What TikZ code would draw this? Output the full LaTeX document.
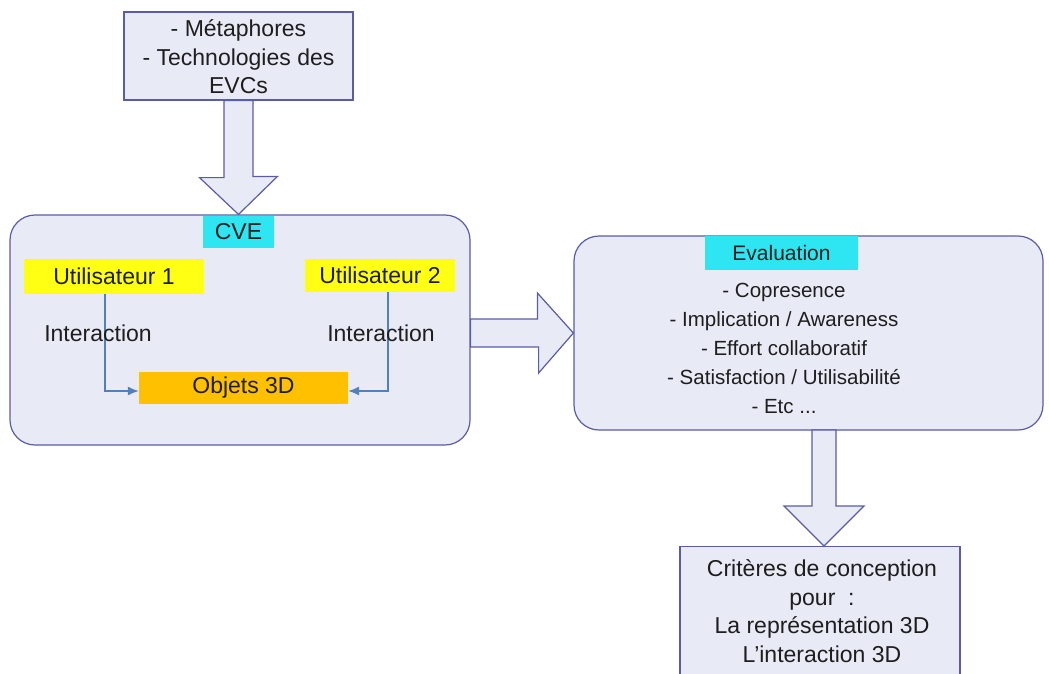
\documentclass[tikz,border=0pt]{standalone}
\usepackage{fontspec}
\setmainfont{Liberation Sans}
\usetikzlibrary{calc,arrows.meta}
\definecolor{boxfill}{HTML}{E8EAF6}
\definecolor{boxline}{HTML}{5A5CA8}
\definecolor{cyanlab}{HTML}{2EE6F2}
\definecolor{yellab}{HTML}{FFFF14}
\definecolor{orlab}{HTML}{FFC000}
\definecolor{conncol}{HTML}{4F81BD}
\definecolor{txt}{HTML}{1E1E1E}
\tikzset{
  bigtext/.style={font=\fontsize{23}{28.5}\selectfont, text=txt, align=center},
  evaltext/.style={font=\fontsize{20.5}{29}\selectfont, text=txt, align=center},
  plainbox/.style={draw=boxline, fill=boxfill, line width=1.2pt},
  roundbox/.style={draw=boxline, fill=boxfill, line width=1.2pt, rounded corners=25pt},
  label/.style={inner sep=0pt, font=\fontsize{23}{28}\selectfont, text=txt},
  blockarrow/.style={draw=boxline, fill=boxfill, line width=1.2pt, line join=miter},
  conn/.style={draw=conncol, line width=1.4pt, -{Latex[length=11pt,width=9pt]}}
}
\begin{document}
\begin{tikzpicture}[x=1pt,y=-1pt]
\useasboundingbox (0,0) rectangle (1049,673);
\clip (0,0) rectangle (1049,673);

% top box
\node[plainbox, minimum width=229pt, minimum height=88pt, inner sep=0pt] (top) at (238.5,56) {};
\node[bigtext] (toptext) at (238.5,57) {- Métaphores\\- Technologies des\\EVCs};

% CVE box
\node[roundbox, minimum width=460pt, minimum height=230pt, inner sep=0pt] (cve) at (240,330) {};
\node[label, fill=cyanlab, minimum width=71pt, minimum height=32pt] (cvelab) at (238.5,232) {CVE};
\node[label, fill=yellab, minimum width=180pt, minimum height=35pt] (u1) at (114,276.5) {Utilisateur 1};
\node[label, fill=yellab, minimum width=150pt, minimum height=33pt] (u2) at (380,275.5) {Utilisateur 2};
\node[label, fill=orlab, minimum width=209pt, minimum height=32pt] (obj) at (243.5,388) {Objets 3D};
\draw[conn] ([xshift=-9pt]u1.south) |- ([yshift=-3pt]obj.west);
\draw[conn] ([xshift=8pt]u2.south) |- ([yshift=-3pt]obj.east);
\node[label] (int1) at (98,333) {Interaction};
\node[label] (int2) at (381,333) {Interaction};

% top arrow
\draw[blockarrow] ([xshift=-14.5pt]top.south) -- ++(0,77) -- ++(-24.5,0)
  -- (cve.north -| top.south) -- ++(39,-38) -- ++(-24.5,0) -- ([xshift=14.5pt]top.south) -- cycle;

% Evaluation box
\node[roundbox, minimum width=469pt, minimum height=194pt, inner sep=0pt] (eval) at (808.5,333) {};
\node[label, fill=cyanlab, minimum width=153pt, minimum height=34pt, font=\fontsize{21}{26}\selectfont] (evallab) at (781.5,253) {Evaluation};
\node[evaltext] (evalitems) at (784,348) {- Copresence\\- Implication / Awareness\\- Effort collaboratif\\- Satisfaction / Utilisabilité\\- Etc ...};

% middle arrow
\coordinate (mstart) at (cve.east |- eval.west);
\draw[blockarrow] ([yshift=-14pt]mstart) -- ++(68,0) -- ++(0,26)
  -- (eval.west) -- ++(-36,-40) -- ++(0,26) -- ([yshift=14pt]mstart) -- cycle;

% bottom box
\node[plainbox, minimum width=280pt, minimum height=200pt, inner sep=0pt, anchor=north] (crit) at (820,546) {};
\node[bigtext] (crittext) at (822,611) {Critères de conception\\pour\ \ :\\La représentation 3D\\L’interaction 3D};

% bottom arrow
\coordinate (bstart) at (824,430);
\draw[blockarrow] ([xshift=-12pt]bstart) -- ++(0,76) -- ++(-28,0)
  -- (crit.north -| bstart) -- ++(40,-40) -- ++(-28,0) -- ([xshift=12pt]bstart) -- cycle;
\end{tikzpicture}
\end{document}
